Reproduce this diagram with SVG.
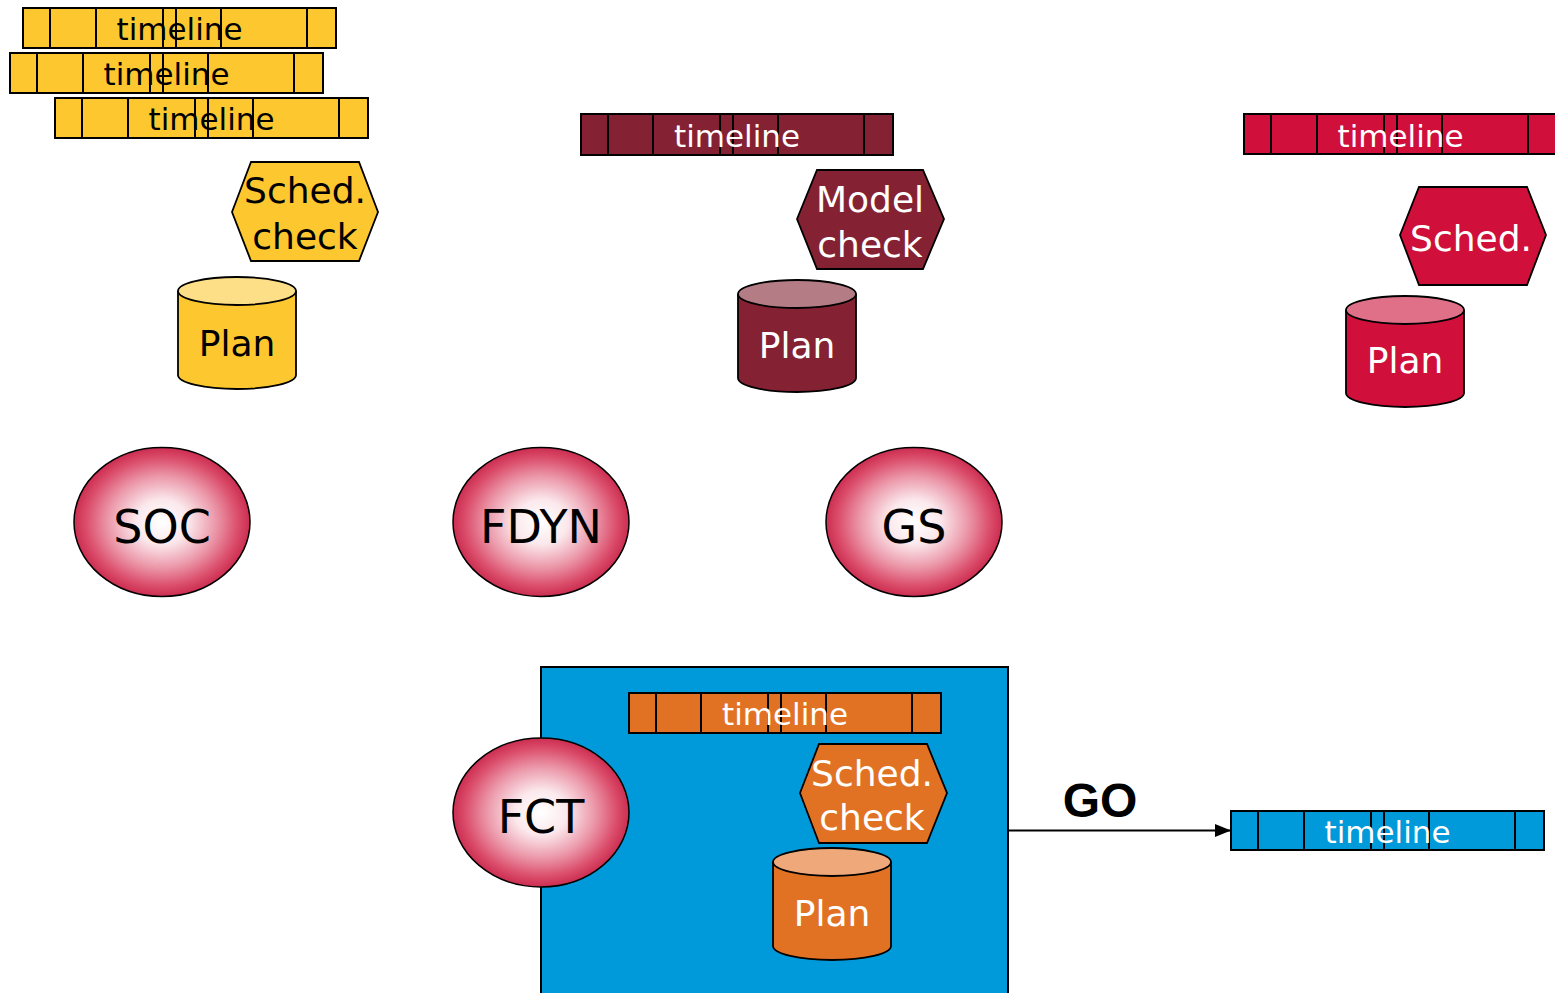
<svg xmlns="http://www.w3.org/2000/svg" width="1555" height="993" viewBox="0 0 1555 993">
<defs>
<style>
text{font-family:"DejaVu Sans","Liberation Sans",sans-serif;text-anchor:middle}
.tl rect{stroke:#000;stroke-width:2}
.tl path{stroke:#000;stroke-width:2;fill:none}
.tl text{font-size:31px}
.hex{stroke:#000;stroke-width:1.8}
.hx{font-size:36px}
.cyl{stroke:#000;stroke-width:1.8}
.pl{font-size:36px}
.org{stroke:#000;stroke-width:1.5;fill:url(#rg)}
.ot{font-size:46px;fill:#000}
.w{fill:#fff}
.k{fill:#000}
</style>
<radialGradient id="rg" cx="0.5" cy="0.5" r="0.5">
<stop offset="0" stop-color="#ffffff"/>
<stop offset="0.3" stop-color="#fbe8ec"/>
<stop offset="0.62" stop-color="#eb96a8"/>
<stop offset="0.86" stop-color="#db4e6c"/>
<stop offset="1" stop-color="#cc2d50"/>
</radialGradient>
<marker id="ah" viewBox="0 0 16 13" refX="16" refY="6.5" markerWidth="16" markerHeight="13" markerUnits="userSpaceOnUse" orient="auto">
<path d="M0,0 L16,6.5 L0,13 z" fill="#000"/>
</marker>
</defs>
<rect width="1555" height="993" fill="#fff"/>

<!-- FCT container -->
<g id="fct-box">
<rect x="541" y="667" width="467" height="340" fill="#009ADA" stroke="#000" stroke-width="2"/>
</g>

<!-- yellow timelines -->
<g id="tl-y1" class="tl" transform="translate(23,8)">
<rect width="313" height="40" fill="#FCC72F"/>
<path d="M27,0V40M73,0V40M140,0V40M153,0V40M198,0V40M284,0V40"/>
<text x="156.5" y="32" class="k">timeline</text>
</g>
<g id="tl-y2" class="tl" transform="translate(10,53)">
<rect width="313" height="40" fill="#FCC72F"/>
<path d="M27,0V40M73,0V40M140,0V40M153,0V40M198,0V40M284,0V40"/>
<text x="156.5" y="32" class="k">timeline</text>
</g>
<g id="tl-y3" class="tl" transform="translate(55,98)">
<rect width="313" height="40" fill="#FCC72F"/>
<path d="M27,0V40M73,0V40M140,0V40M153,0V40M198,0V40M284,0V40"/>
<text x="156.5" y="32" class="k">timeline</text>
</g>
<g id="hex-y">
<polygon class="hex" points="232,212 251,162 359,162 378,212 359,261 251,261" fill="#FCC72F"/>
<text x="305" y="203" class="hx k">Sched.</text>
<text x="305" y="249" class="hx k">check</text>
</g>
<g id="cyl-y">
<path class="cyl" d="M178,291V375A59,14 0 0 0 296,375V291" fill="#FCC72F"/>
<ellipse class="cyl" cx="237" cy="291" rx="59" ry="14" fill="#FDDF88"/>
<text x="237" y="356" class="pl k">Plan</text>
</g>

<!-- maroon -->
<g id="tl-m" class="tl" transform="translate(581,114)">
<rect width="312" height="41" fill="#842233"/>
<path d="M27,0V41M72,0V41M139,0V41M152,0V41M197,0V41M283,0V41"/>
<text x="156" y="33" class="w">timeline</text>
</g>
<g id="hex-m">
<polygon class="hex" points="797,219 817,170 923,170 944,219 923,269 817,269" fill="#842233"/>
<text x="870" y="212" class="hx w">Model</text>
<text x="870" y="257" class="hx w">check</text>
</g>
<g id="cyl-m">
<path class="cyl" d="M738,294V378A59,14 0 0 0 856,378V294" fill="#842233"/>
<ellipse class="cyl" cx="797" cy="294" rx="59" ry="14" fill="#B47C84"/>
<text x="797" y="358" class="pl w">Plan</text>
</g>

<!-- crimson -->
<g id="tl-r" class="tl" transform="translate(1244,114)">
<rect width="313" height="40" fill="#D0103A"/>
<path d="M27,0V40M73,0V40M140,0V40M153,0V40M198,0V40M284,0V40"/>
<text x="156.5" y="33" class="w">timeline</text>
</g>
<g id="hex-r">
<polygon class="hex" points="1400,235 1419,187 1527,187 1546,235 1527,285 1419,285" fill="#D0103A"/>
<text x="1471" y="251" class="hx w">Sched.</text>
</g>
<g id="cyl-r">
<path class="cyl" d="M1346,310V393A59,14 0 0 0 1464,393V310" fill="#D0103A"/>
<ellipse class="cyl" cx="1405" cy="310" rx="59" ry="14" fill="#E07088"/>
<text x="1405" y="373" class="pl w">Plan</text>
</g>

<!-- organisations -->
<g id="soc">
<ellipse class="org" cx="162" cy="522" rx="88" ry="74.5"/>
<text x="162" y="543" class="ot">SOC</text>
</g>
<g id="fdyn">
<ellipse class="org" cx="541" cy="522" rx="88" ry="74.5"/>
<text x="541" y="543" class="ot">FDYN</text>
</g>
<g id="gs">
<ellipse class="org" cx="914" cy="522" rx="88" ry="74.5"/>
<text x="914" y="543" class="ot">GS</text>
</g>

<!-- orange (FCT) -->
<g id="tl-o" class="tl" transform="translate(629,693)">
<rect width="312" height="40" fill="#E17224"/>
<path d="M27,0V40M72,0V40M139,0V40M152,0V40M197,0V40M283,0V40"/>
<text x="156" y="32" class="w">timeline</text>
</g>
<g id="hex-o">
<polygon class="hex" points="800,793 819,744 927,744 947,793 927,843 819,843" fill="#E17224"/>
<text x="872" y="786" class="hx w">Sched.</text>
<text x="872" y="830" class="hx w">check</text>
</g>
<g id="cyl-o">
<path class="cyl" d="M773,862V946A59,14 0 0 0 891,946V862" fill="#E17224"/>
<ellipse class="cyl" cx="832" cy="862" rx="59" ry="14" fill="#EFA87A"/>
<text x="832" y="926" class="pl w">Plan</text>
</g>
<g id="fct">
<ellipse class="org" cx="541" cy="812.5" rx="88" ry="74.5"/>
<text x="541" y="833" class="ot">FCT</text>
</g>

<!-- output timeline -->
<g id="tl-b" class="tl" transform="translate(1231,811)">
<rect width="313" height="39" fill="#009ADA"/>
<path d="M27,0V39M73,0V39M140,0V39M153,0V39M198,0V39M284,0V39"/>
<text x="156.5" y="32" class="w">timeline</text>
</g>

<g id="connectors">
<line x1="1008" y1="830.5" x2="1231" y2="830.5" stroke="#000" stroke-width="2.2" marker-end="url(#ah)"/>
<text x="1100" y="817" style="font-family:'Liberation Sans',Arial,sans-serif;font-weight:bold;font-size:48px" class="k">GO</text>
</g>
</svg>
